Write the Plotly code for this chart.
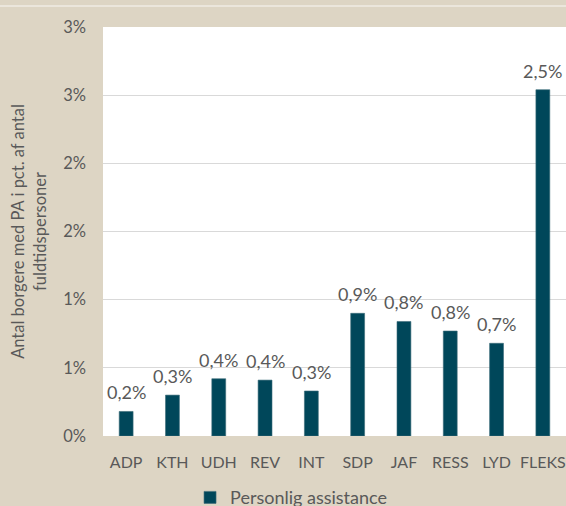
import plotly.graph_objects as go

categories = ["ADP", "KTH", "UDH", "REV", "INT", "SDP", "JAF", "RESS", "LYD", "FLEKS"]
values = [0.0018, 0.0030, 0.0042, 0.0041, 0.0033, 0.0090, 0.0084, 0.0077, 0.0068, 0.0254]
series_name = "Personlig assistance"
y_tick_values = [0, 0.005, 0.01, 0.015, 0.02, 0.025, 0.03]
y_tick_labels = ["0%", "1%", "1%", "2%", "2%", "3%", "3%"]

BG = "#ddd5c4"
BAR = "#00475a"
TXT = "#595959"
FONT = "Lato, Open Sans, sans-serif"

fig = go.Figure()
fig.add_trace(go.Bar(
    x=categories, y=values, name=series_name,
    marker=dict(color=BAR, line=dict(color="#3d6b78", width=0.6)),
    width=0.3,
    showlegend=True,
))

for c, v in zip(categories, values):
    fig.add_annotation(
        x=c, y=v, xref="x", yref="y", text=f"{v*100:.1f}%".replace(".", ","),
        showarrow=False, yanchor="bottom", yshift=6,
        font=dict(size=18, color=TXT, family=FONT),
    )

fig.update_layout(
    width=566, height=506,
    paper_bgcolor=BG, plot_bgcolor="white",
    separators=",.",
    margin=dict(l=103, r=0, t=27, b=69.5),
    font=dict(family=FONT, color=TXT, size=16),
    xaxis=dict(
        showgrid=False, showline=False, zeroline=False,
        tickfont=dict(size=16, color=TXT), ticklabelstandoff=15,
    ),
    yaxis=dict(
        range=[0, 0.03], tickvals=y_tick_values, ticktext=y_tick_labels,
        showgrid=True, gridcolor="#d9d9d9", gridwidth=1,
        zeroline=False, showline=False,
        tickfont=dict(size=16.5, color=TXT), ticklabelstandoff=16,
        title=dict(text="Antal borgere med PA i pct. af antal<br>fuldtidspersoner",
                   font=dict(size=16.5, color=TXT), standoff=12),
    ),
    legend=dict(orientation="h", xref="paper", x=0.188, xanchor="left",
                yref="container", y=0.053, yanchor="top",
                bgcolor="rgba(0,0,0,0)", font=dict(size=18, color=TXT)),
    shapes=[dict(type="line", xref="paper", yref="paper", x0=-0.25, x1=1.0,
                 y0=1.0513, y1=1.0513, line=dict(color="#ebe6dc", width=2))],
)

fig.write_html("out.html", config={"displayModeBar": False},
               post_script="document.body.style.margin='0';document.body.style.overflow='hidden';")
